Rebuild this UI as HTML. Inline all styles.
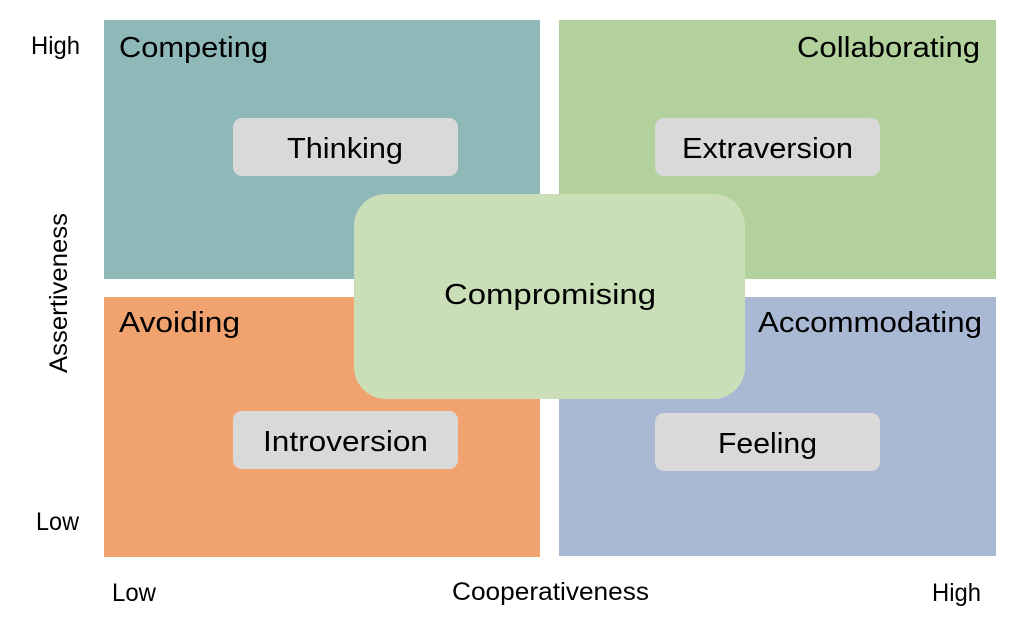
<!DOCTYPE html>
<html>
<head>
<meta charset="utf-8">
<style>
  html, body { margin: 0; padding: 0; background: #ffffff; }
  body { width: 1024px; height: 631px; overflow: hidden; }
  svg { display: block; }
  text { font-family: "Liberation Sans", "DejaVu Sans", sans-serif; fill: #000; }
</style>
</head>
<body>
<svg width="1024" height="631" viewBox="0 0 1024 631" xmlns="http://www.w3.org/2000/svg">
  <rect x="0" y="0" width="1024" height="631" fill="#ffffff"/>

  <!-- Quadrants -->
  <rect x="104" y="20" width="436" height="259" fill="#8FB9B8"/>
  <rect x="559" y="20" width="437" height="259" fill="#B3D19C"/>
  <rect x="104" y="297" width="436" height="260" fill="#F0A36F"/>
  <rect x="559" y="297" width="437" height="259" fill="#A9B8D3"/>

  <!-- Quadrant labels -->
  <text x="119" y="57" font-size="29" textLength="149" lengthAdjust="spacingAndGlyphs">Competing</text>
  <text x="797" y="57" font-size="29" textLength="183" lengthAdjust="spacingAndGlyphs">Collaborating</text>
  <text x="119" y="332" font-size="29" textLength="121" lengthAdjust="spacingAndGlyphs">Avoiding</text>
  <text x="758" y="332" font-size="29" textLength="224" lengthAdjust="spacingAndGlyphs">Accommodating</text>

  <!-- Gray trait boxes -->
  <rect x="233" y="118" width="225" height="58" rx="9" ry="9" fill="#D9D9D9"/>
  <text x="287" y="158" font-size="29" textLength="116" lengthAdjust="spacingAndGlyphs">Thinking</text>

  <rect x="655" y="118" width="225" height="58" rx="9" ry="9" fill="#D9D9D9"/>
  <text x="682" y="158" font-size="29" textLength="171" lengthAdjust="spacingAndGlyphs">Extraversion</text>

  <rect x="233" y="411" width="225" height="58" rx="9" ry="9" fill="#D9D9D9"/>
  <text x="263" y="451" font-size="29" textLength="165" lengthAdjust="spacingAndGlyphs">Introversion</text>

  <rect x="655" y="413" width="225" height="58" rx="9" ry="9" fill="#D9D9D9"/>
  <text x="718" y="453" font-size="29" textLength="99" lengthAdjust="spacingAndGlyphs">Feeling</text>

  <!-- Center compromising box -->
  <rect x="354" y="194" width="391" height="205" rx="32" ry="32" fill="#CADFB8"/>
  <text x="444" y="304" font-size="29" textLength="212" lengthAdjust="spacingAndGlyphs">Compromising</text>

  <!-- Axis labels -->
  <text x="31" y="54" font-size="25" textLength="49" lengthAdjust="spacingAndGlyphs">High</text>
  <text x="36" y="530" font-size="25" textLength="43" lengthAdjust="spacingAndGlyphs">Low</text>
  <text x="112" y="601" font-size="25" textLength="44" lengthAdjust="spacingAndGlyphs">Low</text>
  <text x="452" y="600" font-size="25" textLength="197" lengthAdjust="spacingAndGlyphs">Cooperativeness</text>
  <text x="932" y="601" font-size="25" textLength="49" lengthAdjust="spacingAndGlyphs">High</text>

  <text transform="translate(67,373) rotate(-90)" x="0" y="0" font-size="25" textLength="160" lengthAdjust="spacingAndGlyphs">Assertiveness</text>
</svg>
</body>
</html>
